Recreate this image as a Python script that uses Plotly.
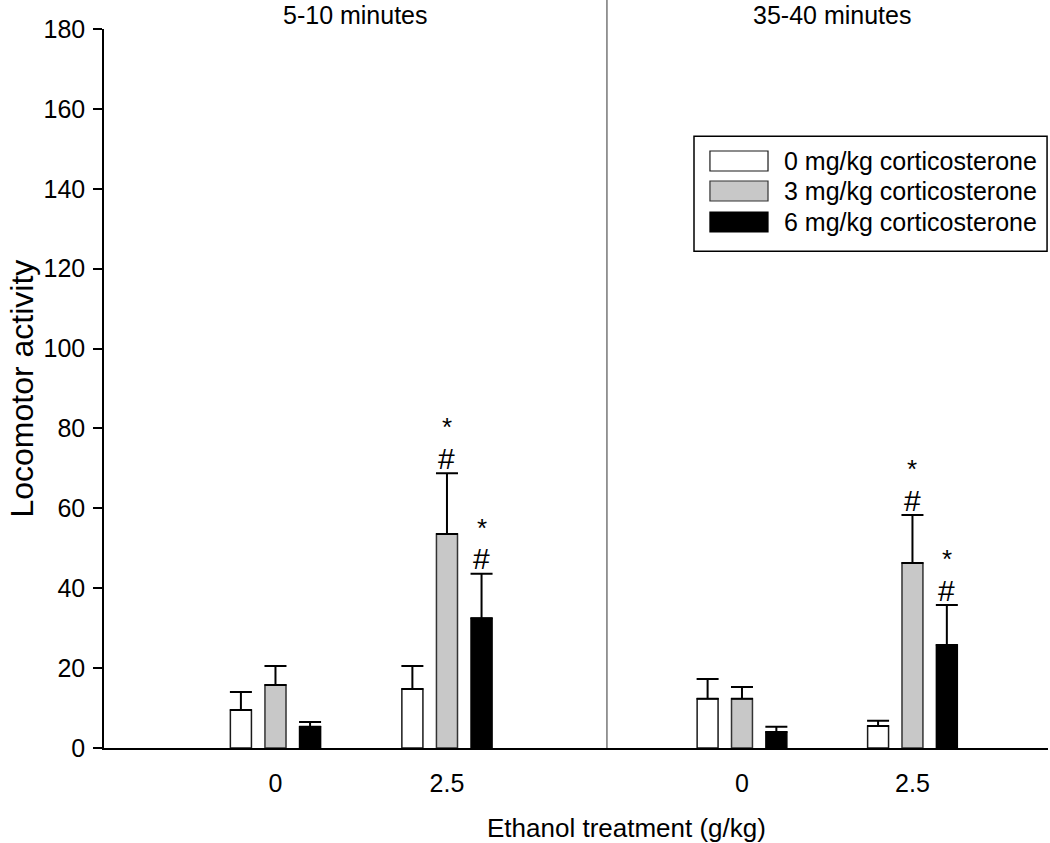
import plotly.graph_objects as go

# ---- data ----
ethanol = ["0", "2.5"]
series = ["0 mg/kg corticosterone", "3 mg/kg corticosterone", "6 mg/kg corticosterone"]
panels = ["5-10 minutes", "35-40 minutes"]

# means [series][ethanol]
mean_5_10 = [[9.5, 14.8], [15.8, 53.6], [5.3, 32.5]]
sem_5_10 = [[4.5, 5.7], [4.7, 15.2], [1.2, 11.1]]
mean_35_40 = [[12.3, 5.5], [12.3, 46.3], [4.0, 25.8]]
sem_35_40 = [[5.0, 1.3], [3.0, 12.0], [1.3, 10.0]]

# significance marks: (panel, series index, ethanol index)
sig_marks = [(0, 1, 1), (0, 2, 1), (1, 1, 1), (1, 2, 1)]

y_ticks = [0, 20, 40, 60, 80, 100, 120, 140, 160, 180]

# ---- style ----
fills = ["#ffffff", "#c8c8c8", "#000000"]
edges = ["#1a1a1a", "#333333", "#000000"]
FONT = "Arial, Liberation Sans, sans-serif"
BARGAP = 0.395
BARGROUPGAP = 0.391
slot = (1 - BARGAP) / 3
split = 0.5328

means = [mean_5_10, mean_35_40]
sems = [sem_5_10, sem_35_40]

fig = go.Figure()
for p in range(2):
    xa = "x" if p == 0 else "x2"
    for s in range(3):
        fig.add_trace(go.Bar(
            x=ethanol, y=means[p][s], name=series[s], xaxis=xa, yaxis="y",
            marker=dict(color=fills[s], line=dict(color=edges[s], width=1.5)),
            error_y=dict(type="data", array=sems[p][s], arrayminus=[0, 0],
                         symmetric=False, color="black", thickness=2, width=11),
            showlegend=False, hoverinfo="y",
        ))

annotations = []
for (p, s, e) in sig_marks:
    top = means[p][s][e] + sems[p][s][e]
    xref = "x" if p == 0 else "x2"
    xpos = e + (s - 1) * slot
    annotations.append(dict(x=xpos, y=top, xref=xref, yref="y", text="#",
                            showarrow=False, xanchor="center", yanchor="middle", yshift=15,
                            font=dict(size=30, color="black", family=FONT)))
    annotations.append(dict(x=xpos, y=top, xref=xref, yref="y", text="*",
                            showarrow=False, xanchor="center", yanchor="middle", yshift=46,
                            font=dict(size=26, color="black", family=FONT)))

# panel titles
annotations.append(dict(x=split / 2, y=1.0195, xref="paper", yref="paper", text=panels[0],
                        showarrow=False, xanchor="center", yanchor="middle",
                        font=dict(size=25, family=FONT, color="black")))
annotations.append(dict(x=(split + 1) / 2 + 0.005, y=1.0195, xref="paper", yref="paper", text=panels[1],
                        showarrow=False, xanchor="center", yanchor="middle",
                        font=dict(size=25, family=FONT, color="black")))
# axis titles
annotations.append(dict(x=0.553, y=-0.1113, xref="paper", yref="paper", text="Ethanol treatment (g/kg)",
                        showarrow=False, xanchor="center", yanchor="middle",
                        font=dict(size=26, family=FONT, color="black")))
annotations.append(dict(x=-0.0879, y=0.5, xref="paper", yref="paper", text="Locomotor activity",
                        showarrow=False, textangle=-90, xanchor="center", yanchor="middle",
                        font=dict(size=32, family=FONT, color="black")))

# manual legend
shapes = []
shapes.append(dict(type="rect", xref="paper", yref="paper", x0=0.625, x1=0.999, y0=0.691, y1=0.851,
                   line=dict(color="black", width=1.5), fillcolor="white", layer="above"))
row_y = [0.8164, 0.7747, 0.7316]
for s in range(3):
    shapes.append(dict(type="rect", xref="paper", yref="paper", x0=0.6419, x1=0.7034,
                       y0=row_y[s] - 0.0139, y1=row_y[s] + 0.0139,
                       line=dict(color=edges[s], width=1.2), fillcolor=fills[s], layer="above"))
    annotations.append(dict(x=0.7182, y=row_y[s], xref="paper", yref="paper", text=series[s],
                            showarrow=False, xanchor="left", yanchor="middle",
                            font=dict(size=25, family=FONT, color="black")))

# divider between panels
shapes.append(dict(type="line", xref="paper", yref="paper", x0=split, x1=split, y0=0, y1=1.045,
                   line=dict(color="#333333", width=1)))

axis_common = dict(type="category", showline=True, linecolor="black", linewidth=2,
                   showgrid=False, zeroline=False, ticks="", ticklabelstandoff=12,
                   tickfont=dict(size=25, family=FONT, color="black"), fixedrange=True)

fig.update_layout(
    width=1050, height=843,
    margin=dict(l=104, r=2, t=29, b=95),
    paper_bgcolor="white", plot_bgcolor="white",
    barmode="group", bargap=BARGAP, bargroupgap=BARGROUPGAP,
    font=dict(family=FONT, color="black"),
    xaxis=dict(domain=[0, split], range=[-1.0, 1.933], anchor="y", **axis_common),
    xaxis2=dict(domain=[split, 1], range=[-0.792, 1.795], anchor="y", **axis_common),
    yaxis=dict(range=[0, 180], tickvals=y_ticks, showline=True, linecolor="black", linewidth=1.5,
               ticks="outside", ticklen=9, tickwidth=1.5, tickcolor="black", ticklabelstandoff=3,
               showgrid=False, zeroline=False, tickfont=dict(size=25, family=FONT, color="black")),
    annotations=annotations,
    shapes=shapes,
)

fig.write_html("out.html", config={"displayModeBar": False},
               post_script="document.body.style.margin='0';document.body.style.overflow='hidden';")
